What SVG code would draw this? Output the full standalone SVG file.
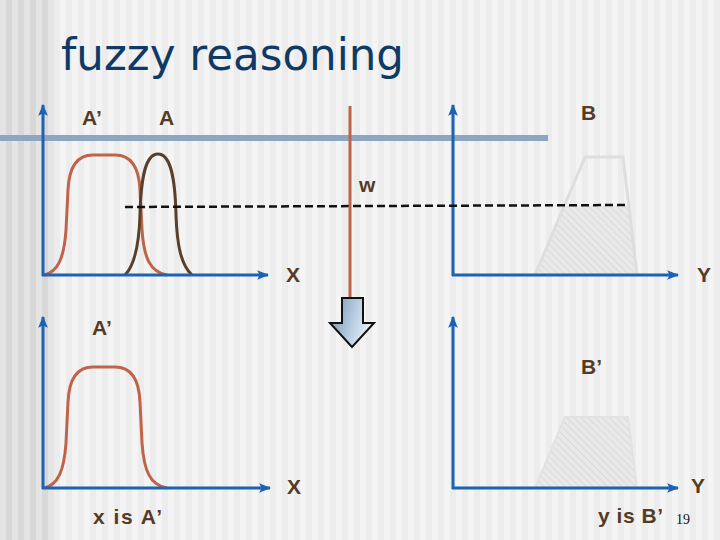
<svg xmlns="http://www.w3.org/2000/svg" width="720" height="540" viewBox="0 0 720 540">
<defs>
<pattern id="bg" patternUnits="userSpaceOnUse" width="12" height="10">
<rect width="12" height="10" fill="#f4f4f4"/>
<rect x="6" width="6" height="10" fill="#ececec"/>
</pattern>
<pattern id="bgl" patternUnits="userSpaceOnUse" width="12" height="10">
<rect width="12" height="10" fill="#e4e4e4"/>
<rect x="6" width="6" height="10" fill="#d8d8d8"/>
</pattern>
<pattern id="hatch" patternUnits="userSpaceOnUse" width="5" height="5" patternTransform="rotate(-45)">
<rect width="5" height="5" fill="#e9e9e9"/>
<line x1="0" y1="0" x2="0" y2="5" stroke="#d2d2d2" stroke-width="1.4"/>
</pattern>
<linearGradient id="arrowGrad" x1="0" y1="0" x2="1" y2="0.3">
<stop offset="0" stop-color="#6f8fb0"/>
<stop offset="0.6" stop-color="#b7cde0"/>
<stop offset="1" stop-color="#e8f0f7"/>
</linearGradient>
<marker id="ah" viewBox="0 0 10 10" refX="9" refY="5" markerWidth="4" markerHeight="4" orient="auto-start-reverse" markerUnits="strokeWidth">
<path d="M0,1 L10,5 L0,9 L2,5 Z" fill="#1d62b3"/>
</marker>
</defs>
<style>
.axis{stroke:#1d62b3;stroke-width:3;fill:none;marker-end:url(#ah)}
.lbl{font-family:"Liberation Sans",Arial,sans-serif;font-size:21px;font-weight:bold;fill:#553b25}
.cA1{fill:none;stroke:#bf634a;stroke-width:3}
.cA{fill:none;stroke:#5a3f2b;stroke-width:3}
.trap{stroke:#dedede;stroke-width:3;fill:none}
</style>
<rect width="720" height="540" fill="url(#bg)"/>
<rect width="54" height="540" fill="url(#bgl)"/>
<rect x="0" y="135" width="548" height="6" fill="#8ea6c2"/>
<text x="61" y="70" font-family="DejaVu Sans,Verdana,sans-serif" font-size="44" fill="#0f3a66" textLength="343" lengthAdjust="spacingAndGlyphs">fuzzy reasoning</text>

<g id="chart-top-left">
<path class="cA1" d="M44,275 C58,272 64,258 66,230 L68,190 C69,167 77,155 93,155 L115,155 C131,155 139,167 140,190 L142,230 C144,258 150,272 167,275"/>
<path class="cA" d="M125,275 C135,265 139,245 140,215 C141,175 146,154 158,154 C170,154 175,175 176,215 C177,245 181,265 192,275"/>
<line class="axis" x1="43" y1="276" x2="43" y2="105"/>
<line class="axis" x1="42" y1="275" x2="268" y2="275"/>
<text class="lbl" x="82" y="125">A’</text>
<text class="lbl" x="159" y="125">A</text>
<text class="lbl" x="286" y="282">X</text>
</g>

<g id="chart-top-right">
<polygon points="565,206 629,206 637,275 535,275" fill="url(#hatch)"/>
<polyline class="trap" points="535,275 585,157 623,157 637,275"/>
<line class="axis" x1="453" y1="276" x2="453" y2="105"/>
<line class="axis" x1="452" y1="275" x2="678" y2="275"/>
<text class="lbl" x="581" y="120">B</text>
<text class="lbl" x="697" y="282">Y</text>
</g>

<g id="connectors">
<line x1="125" y1="207" x2="628" y2="205" stroke="#111" stroke-width="2.5" stroke-dasharray="8,4"/>
<line x1="350" y1="106" x2="350" y2="299" stroke="#bf634a" stroke-width="3"/>
<text class="lbl" x="359" y="192">w</text>
</g>

<g id="down-arrow">
<path d="M342,298 L363,298 L363,323 L374,323 L352,347 L330,323 L342,323 Z" fill="url(#arrowGrad)" stroke="#111" stroke-width="2" stroke-linejoin="miter"/>
</g>

<g id="chart-bottom-left">
<path class="cA1" d="M44,488 C58,485 64,471 66,443 L68,402 C69,379 77,367 93,367 L115,367 C131,367 139,379 140,402 L142,443 C144,471 150,485 167,488"/>
<line class="axis" x1="43" y1="489" x2="43" y2="317"/>
<line class="axis" x1="42" y1="488" x2="270" y2="488"/>
<text class="lbl" x="92" y="335">A’</text>
<text class="lbl" x="287" y="494">X</text>
<text class="lbl" x="93" y="524" textLength="69">x is A’</text>
</g>

<g id="chart-bottom-right">
<polygon points="565,417 628,417 637,488 535,488" fill="url(#hatch)" stroke="#e2e2e2" stroke-width="2"/>
<line class="axis" x1="453" y1="489" x2="453" y2="317"/>
<line class="axis" x1="452" y1="488" x2="678" y2="488"/>
<text class="lbl" x="581" y="374">B’</text>
<text class="lbl" x="691" y="493">Y</text>
<text class="lbl" x="598" y="523" textLength="65">y is B’</text>
<text x="676" y="524" font-family="Liberation Serif,serif" font-size="14" fill="#111">19</text>
</g>
</svg>
